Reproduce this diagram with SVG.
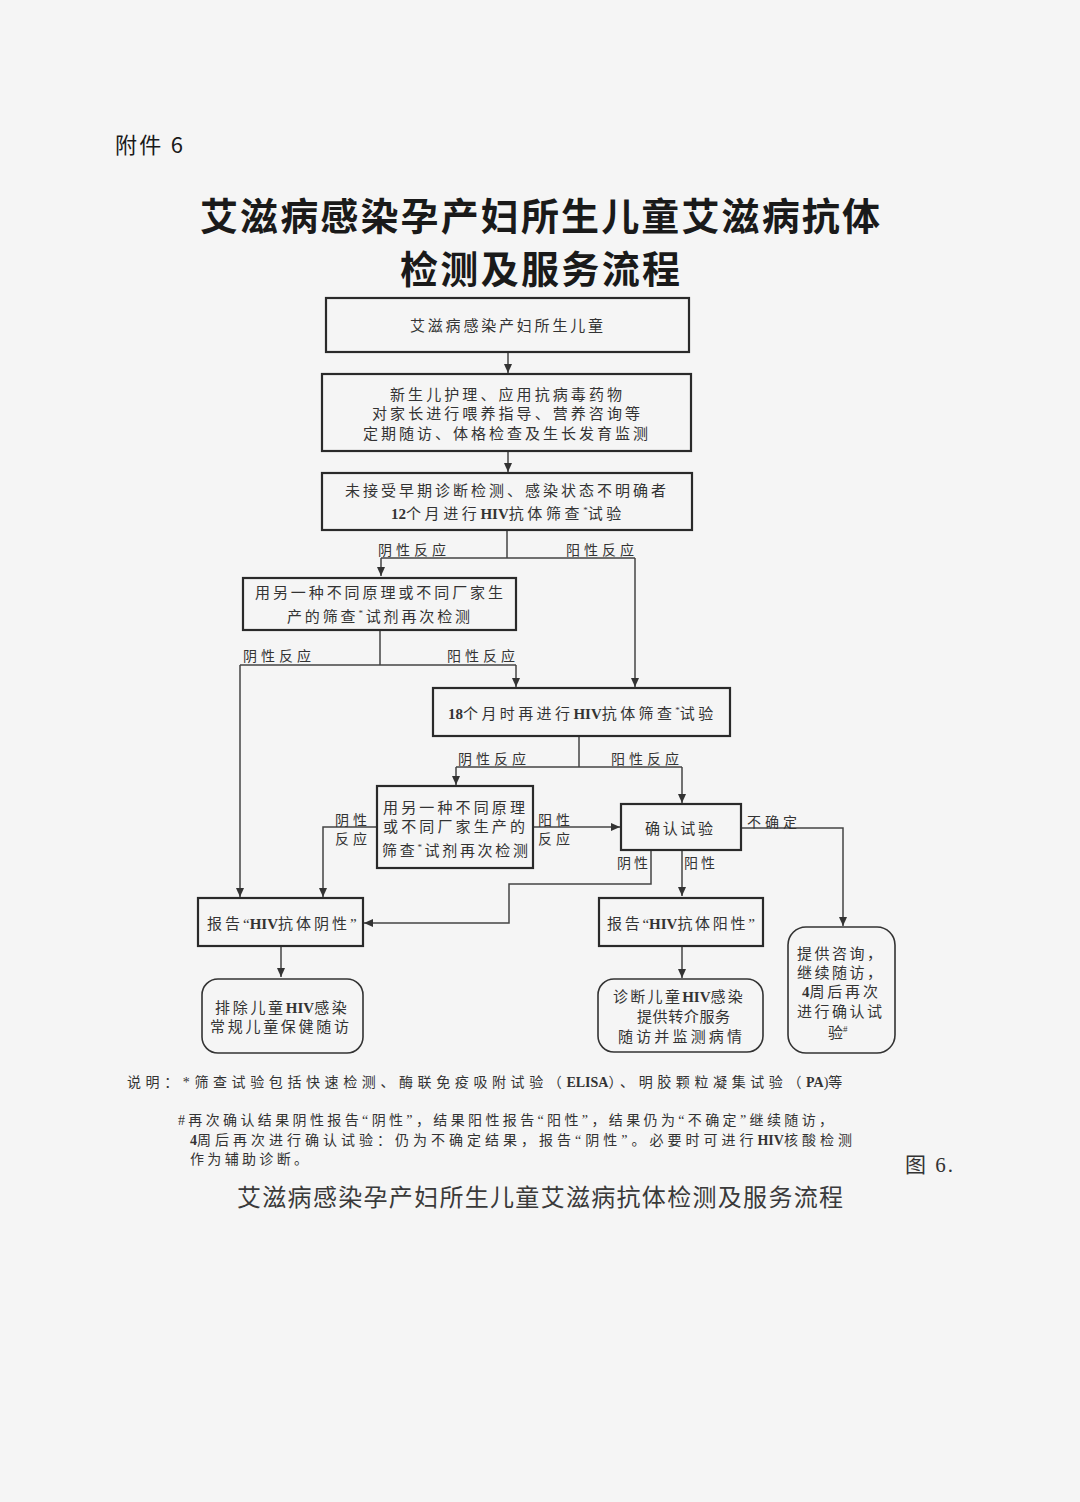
<svg xmlns="http://www.w3.org/2000/svg" width="1080" height="1502" viewBox="0 0 1080 1502">
<defs>
<style>
.box{fill:none;stroke:#2a2a2a;stroke-width:2.2}
.rbox{fill:none;stroke:#333;stroke-width:1.6}
.ln{fill:none;stroke:#444;stroke-width:1.5}
.t{font-family:"Liberation Serif","Noto Sans CJK SC",serif;font-size:15px;fill:#333}
.lb{font-size:14px}
.b{font-weight:bold;letter-spacing:0}
.l0{letter-spacing:0}
.sup{font-size:9px;letter-spacing:0}
.h{font-family:"Noto Sans CJK SC","Liberation Sans",sans-serif;fill:#1a1a1a}
</style>
<marker id="ah" viewBox="0 0 9 8" refX="9" refY="4" markerWidth="9" markerHeight="8" markerUnits="userSpaceOnUse" orient="auto">
<path d="M0,0 L9,4 L0,8 z" fill="#333"/>
</marker>
</defs>
<rect width="1080" height="1502" fill="#f5f5f5"/>

<g id="header">
<text class="h" x="115" y="153" font-size="22" textLength="68" lengthAdjust="spacing">附件 6</text>
<text class="h" x="200" y="230" font-size="38" font-weight="bold" textLength="680" lengthAdjust="spacing">艾滋病感染孕产妇所生儿童艾滋病抗体</text>
<text class="h" x="400" y="283" font-size="38" font-weight="bold" textLength="280" lengthAdjust="spacing">检测及服务流程</text>
</g>

<g id="connectors">
<path class="ln" d="M508,352 V373" marker-end="url(#ah)"/>
<path class="ln" d="M508,451 V472" marker-end="url(#ah)"/>
<path class="ln" d="M507,530 V558 M381,558 H635"/>
<path class="ln" d="M381,558 V576" marker-end="url(#ah)"/>
<path class="ln" d="M635,558 V687" marker-end="url(#ah)"/>
<path class="ln" d="M380,630 V665 M240,665 H516"/>
<path class="ln" d="M240,665 V897" marker-end="url(#ah)"/>
<path class="ln" d="M516,665 V687" marker-end="url(#ah)"/>
<path class="ln" d="M579,736 V767 M456,767 H682"/>
<path class="ln" d="M456,767 V785" marker-end="url(#ah)"/>
<path class="ln" d="M682,767 V803" marker-end="url(#ah)"/>
<path class="ln" d="M377,827 H323 V897" marker-end="url(#ah)"/>
<path class="ln" d="M533,827 H620" marker-end="url(#ah)"/>
<path class="ln" d="M741,828 H843 V926" marker-end="url(#ah)"/>
<path class="ln" d="M651,850 V884 H509 V923 H364" marker-end="url(#ah)"/>
<path class="ln" d="M682,850 V896" marker-end="url(#ah)"/>
<path class="ln" d="M281,946 V977" marker-end="url(#ah)"/>
<path class="ln" d="M682,946 V978" marker-end="url(#ah)"/>
<g class="t lb">
<text x="378" y="555" textLength="68" lengthAdjust="spacing">阴性反应</text>
<text x="566" y="555" textLength="68" lengthAdjust="spacing">阳性反应</text>
<text x="243" y="661" textLength="68" lengthAdjust="spacing">阴性反应</text>
<text x="447" y="661" textLength="68" lengthAdjust="spacing">阳性反应</text>
<text x="458" y="764" textLength="68" lengthAdjust="spacing">阴性反应</text>
<text x="611" y="764" textLength="68" lengthAdjust="spacing">阳性反应</text>
<text x="335" y="825" textLength="32" lengthAdjust="spacing">阴性</text>
<text x="335" y="844" textLength="32" lengthAdjust="spacing">反应</text>
<text x="538" y="825" textLength="32" lengthAdjust="spacing">阳性</text>
<text x="538" y="844" textLength="32" lengthAdjust="spacing">反应</text>
<text x="747" y="827" textLength="50" lengthAdjust="spacing">不确定</text>
<text x="617" y="868" textLength="31" lengthAdjust="spacing">阴性</text>
<text x="684" y="868" textLength="31" lengthAdjust="spacing">阳性</text>
</g>
</g>

<g id="n1">
<rect class="box" x="326" y="298" width="363" height="54"/>
<text class="t" x="410" y="331" textLength="193" lengthAdjust="spacing">艾滋病感染产妇所生儿童</text>
</g>
<g id="n2">
<rect class="box" x="322" y="374" width="369" height="77"/>
<text class="t" x="390" y="400" textLength="232" lengthAdjust="spacing">新生儿护理、应用抗病毒药物</text>
<text class="t" x="372" y="419" textLength="268" lengthAdjust="spacing">对家长进行喂养指导、营养咨询等</text>
<text class="t" x="363" y="439" textLength="285" lengthAdjust="spacing">定期随访、体格检查及生长发育监测</text>
</g>
<g id="n3">
<rect class="box" x="322" y="473" width="370" height="57"/>
<text class="t" x="345" y="496" textLength="321" lengthAdjust="spacing">未接受早期诊断检测、感染状态不明确者</text>
<text class="t" x="391" y="519" letter-spacing="3.6"><tspan class="b">12</tspan>个月进行<tspan class="b">HIV</tspan>抗体筛查<tspan class="sup" dy="-6">*</tspan><tspan dy="6">试验</tspan></text>
</g>
<g id="n4">
<rect class="box" x="243" y="578" width="273" height="52"/>
<text class="t" x="255" y="598" textLength="248" lengthAdjust="spacing">用另一种不同原理或不同厂家生</text>
<text class="t" x="287" y="622" textLength="183" lengthAdjust="spacing">产的筛查<tspan class="sup" dy="-6">*</tspan><tspan dy="6">试剂再次检测</tspan></text>
</g>
<g id="n5">
<rect class="box" x="433" y="688" width="297" height="48"/>
<text class="t" x="448" y="719" letter-spacing="3.4"><tspan class="b">18</tspan>个月时再进行<tspan class="b">HIV</tspan>抗体筛查<tspan class="sup" dy="-6">*</tspan><tspan dy="6">试验</tspan></text>
</g>
<g id="n6">
<rect class="box" x="377" y="786" width="156" height="82"/>
<text class="t" x="383" y="813" textLength="142" lengthAdjust="spacing">用另一种不同原理</text>
<text class="t" x="383" y="832" textLength="142" lengthAdjust="spacing">或不同厂家生产的</text>
<text class="t" x="382" y="856" textLength="146" lengthAdjust="spacing">筛查<tspan class="sup" dy="-6">*</tspan><tspan dy="6">试剂再次检测</tspan></text>
</g>
<g id="n7">
<rect class="box" x="621" y="804" width="120" height="46"/>
<text class="t" x="645" y="834" textLength="68" lengthAdjust="spacing">确认试验</text>
</g>
<g id="n8">
<rect class="box" x="198" y="898" width="165" height="48"/>
<text class="t" x="207" y="929" letter-spacing="3">报告<tspan class="l0">“</tspan><tspan class="b">HIV</tspan>抗体阴性<tspan class="l0">”</tspan></text>
</g>
<g id="n9">
<rect class="box" x="599" y="898" width="164" height="48"/>
<text class="t" x="607" y="929" letter-spacing="2.7">报告<tspan class="l0">“</tspan><tspan class="b">HIV</tspan>抗体阳性<tspan class="l0">”</tspan></text>
</g>
<g id="n10">
<rect class="rbox" x="202" y="979" width="161" height="74" rx="16"/>
<text class="t" x="215" y="1013" letter-spacing="2.7">排除儿童<tspan class="b">HIV</tspan>感染</text>
<text class="t" x="210" y="1032" textLength="139" lengthAdjust="spacing">常规儿童保健随访</text>
</g>
<g id="n11">
<rect class="rbox" x="598" y="979" width="165" height="73" rx="16"/>
<text class="t" x="613" y="1002" letter-spacing="2.3">诊断儿童<tspan class="b">HIV</tspan>感染</text>
<text class="t" x="637" y="1022" textLength="93" lengthAdjust="spacing">提供转介服务</text>
<text class="t" x="618" y="1042" textLength="124" lengthAdjust="spacing">随访并监测病情</text>
</g>
<g id="n12">
<rect class="rbox" x="788" y="927" width="107" height="126" rx="18"/>
<text class="t" x="797" y="959" textLength="85" lengthAdjust="spacing">提供咨询，</text>
<text class="t" x="797" y="978" textLength="85" lengthAdjust="spacing">继续随访，</text>
<text class="t" x="802" y="997" letter-spacing="2.8"><tspan class="b">4</tspan>周后再次</text>
<text class="t" x="797" y="1017" textLength="85" lengthAdjust="spacing">进行确认试</text>
<text class="t" x="828" y="1038">验<tspan class="sup" dy="-6">#</tspan></text>
</g>

<g id="notes" class="t lb">
<text x="127" y="1087" letter-spacing="4.6">说明：*筛查试验包括快速检测、酶联免疫吸附试验（<tspan class="b">ELISA</tspan>）、明胶颗粒凝集试验（<tspan class="b">PA</tspan><tspan class="l0">)</tspan>等</text>
<text x="178" y="1125" textLength="655" lengthAdjust="spacing">#再次确认结果阴性报告“阴性”，结果阳性报告“阳性”，结果仍为“不确定”继续随访，</text>
<text x="190" y="1145" letter-spacing="4"><tspan class="b">4</tspan>周后再次进行确认试验：仍为不确定结果，报告“阴性”。必要时可进行<tspan class="b">HIV</tspan>核酸检测</text>
<text x="190" y="1164" textLength="118" lengthAdjust="spacing">作为辅助诊断。</text>
<text x="905" y="1172" font-size="21" textLength="48" lengthAdjust="spacing">图 6.</text>
<text x="237" y="1206" font-size="24" fill="#3a3a3a" textLength="606" lengthAdjust="spacing" style="font-family:'Noto Sans CJK SC',sans-serif">艾滋病感染孕产妇所生儿童艾滋病抗体检测及服务流程</text>
</g>
</svg>
